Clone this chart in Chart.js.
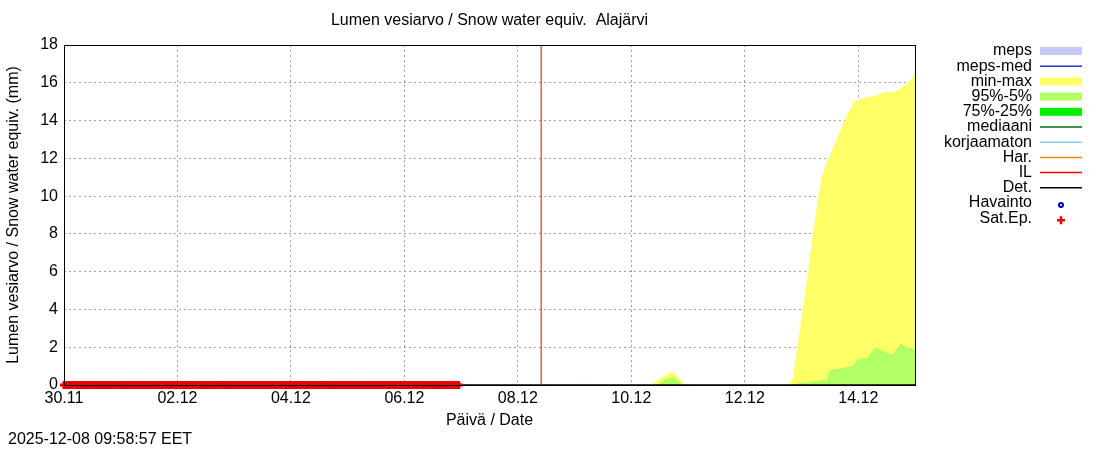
<!DOCTYPE html><html><head><meta charset="utf-8">
<script src="https://cdn.jsdelivr.net/npm/chart.js@4/dist/chart.umd.min.js"></script>
<style>body{margin:0;background:#fff}#w{width:1100px;height:450px}</style></head><body><div id="w"><canvas id="c"></canvas></div>
<script>
const tickLabels=['30.11','02.12','04.12','06.12','08.12','10.12','12.12','14.12'];
const minmaxDays=[0,9.1,9.15,9.2,10.33,10.5,10.71,10.8,10.94,12.75,12.85,12.95,13.05,13.2,13.35,13.48,13.62,13.76,13.92,14.1,14.3,14.45,14.63,14.8,14.95,15];
const minmaxVals=[0,0,0.1,0,0,0.3,0.7,0.5,0,0,0.3,2.5,4.5,8,11,12,13,14,15,15.2,15.3,15.5,15.5,15.8,16.2,16.5];
const p95Days=[0,10.45,10.6,10.75,10.9,12.7,13.0,13.25,13.45,13.5,13.73,13.9,14.0,14.15,14.3,14.45,14.6,14.75,14.85,15];
const p95Vals=[0,0,0.3,0.45,0,0,0.1,0.2,0.3,0.8,0.9,1.0,1.4,1.4,2.0,1.8,1.6,2.2,2.0,1.9];
const nowDay=8.41;
const satEnd=6.97;
const timestamp='2025-12-08 09:58:57 EET';
const legendItems=[['meps','box','#c8c8f8'],['meps-med','line','#3030d0'],['min-max','box','#ffff66'],['95%-5%','box','#b3ff66'],['75%-25%','box','#00ee00'],['mediaani','line','#007000'],['korjaamaton','line','#88ccee'],['Har.','line','#ff8000'],['IL','line','#ee0000'],['Det.','line','#000000'],['Havainto','circ','#0000cc'],['Sat.Ep.','plus','#ee0000']];
const F='"Liberation Sans", Arial, sans-serif';
const xy=(d,v)=>d.map((x,i)=>({x,y:v[i]}));
const sat=[];for(let d=0;d<=satEnd+1e-9;d+=1/24)sat.push({x:d,y:0});
const extra={id:'extra',afterDraw(c){const g=c.ctx,a=c.chartArea;g.save();
g.font='16px '+F;g.fillStyle='#000';g.textAlign='center';g.textBaseline='middle';
g.fillText('Lumen vesiarvo / Snow water equiv.  Alajärvi',(a.left+a.right)/2,21);
g.fillText('Päivä / Date',(a.left+a.right)/2,421);
g.textAlign='left';g.fillText(timestamp,8,440);
g.strokeStyle='#000';g.lineWidth=1;g.strokeRect(a.left+.5,a.top+.5,a.right-a.left,a.bottom-a.top);
legendItems.forEach((it,i)=>{const y=51+i*15.2;g.textAlign='right';g.fillStyle='#000';g.fillText(it[0],1032,y);
const x0=1040,x1=1082;g.fillStyle=it[2];g.strokeStyle=it[2];
if(it[1]=='box')g.fillRect(x0,y-4,x1-x0,8);
else if(it[1]=='line'){g.lineWidth=1.5;g.beginPath();g.moveTo(x0,y);g.lineTo(x1,y);g.stroke();}
else if(it[1]=='circ'){g.lineWidth=2;g.beginPath();g.arc(1061,y+2,2,0,7);g.stroke();}
else{g.lineWidth=2.5;g.beginPath();g.moveTo(1057,y+2);g.lineTo(1065,y+2);g.moveTo(1061,y-2);g.lineTo(1061,y+6);g.stroke();}});
g.restore();}};
new Chart(document.getElementById('c'),{type:'line',
data:{datasets:[
{data:[{x:nowDay,y:0},{x:nowDay,y:18}],borderColor:'#ee0000',borderWidth:1,pointRadius:0},
{data:sat,borderColor:'#ee0000',borderWidth:3,pointStyle:'cross',pointRadius:4,showLine:false,clip:false},
{data:[{x:0,y:0},{x:15,y:0}],borderColor:'#000',borderWidth:1.5,pointRadius:0},
{data:xy(p95Days,p95Vals),borderWidth:0,backgroundColor:'#b3ff66',fill:'origin',pointRadius:0,tension:0},
{data:xy(minmaxDays,minmaxVals),borderWidth:0,backgroundColor:'#ffff66',fill:'origin',pointRadius:0,tension:0}
]},
options:{responsive:true,maintainAspectRatio:false,animation:false,
layout:{padding:{top:45,right:185,left:0,bottom:0}},
plugins:{legend:{display:false},tooltip:{enabled:false}},
scales:{
x:{type:'linear',min:0,max:15,afterFit(s){s.height=65},
afterBuildTicks(s){s.ticks=tickLabels.map((l,i)=>({value:i*2}));},
ticks:{autoSkip:false,maxRotation:0,color:'#000',font:{family:F,size:16},padding:4,callback:(v)=>tickLabels[v/2]},
grid:{color:'#a0a0a0',tickLength:0,drawTicks:false},border:{display:false,dash:[2,3]}},
y:{min:0,max:18,afterFit(s){s.width=64},
ticks:{stepSize:2,color:'#000',font:{family:F,size:16},padding:6},
grid:{color:'#a0a0a0',drawTicks:false},border:{display:false,dash:[2,3]},
title:{display:true,text:'Lumen vesiarvo / Snow water equiv. (mm)',color:'#000',font:{family:F,size:16},padding:{bottom:0}}}
}},plugins:[extra]});
</script></body></html>
